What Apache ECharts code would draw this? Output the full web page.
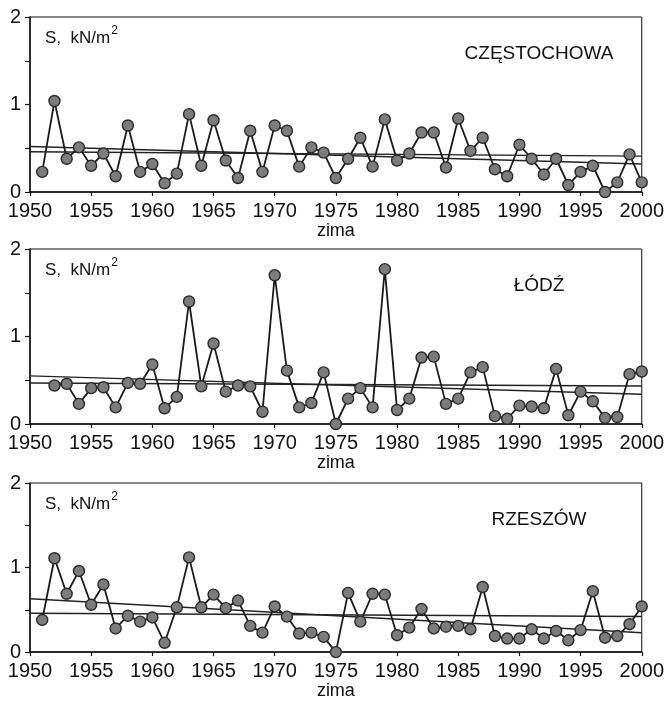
<!DOCTYPE html>
<html>
<head>
<meta charset="utf-8">
<script src="https://cdn.jsdelivr.net/npm/echarts@6/dist/echarts.min.js"></script>
<style>
  html, body { margin: 0; padding: 0; background: #fff; }
  #chart { width: 667px; height: 701px; }
</style>
</head>
<body>
<div id="chart"></div>
<script>
// winters, snow load S in kN/m2
const stations = ['CZĘSTOCHOWA', 'ŁÓDŹ', 'RZESZÓW']

const yearsCz = [1951, 1952, 1953, 1954, 1955, 1956, 1957, 1958, 1959, 1960,
  1961, 1962, 1963, 1964, 1965, 1966, 1967, 1968, 1969, 1970,
  1971, 1972, 1973, 1974, 1975, 1976, 1977, 1978, 1979, 1980,
  1981, 1982, 1983, 1984, 1985, 1986, 1987, 1988, 1989, 1990,
  1991, 1992, 1993, 1994, 1995, 1996, 1997, 1998, 1999, 2000]
const valuesCz = [0.23, 1.04, 0.38, 0.51, 0.30, 0.44, 0.18, 0.76, 0.23, 0.32,
  0.10, 0.21, 0.89, 0.30, 0.82, 0.36, 0.16, 0.70, 0.23, 0.76,
  0.70, 0.29, 0.51, 0.45, 0.16, 0.38, 0.62, 0.29, 0.83, 0.36,
  0.44, 0.68, 0.68, 0.28, 0.84, 0.47, 0.62, 0.26, 0.18, 0.54,
  0.38, 0.20, 0.38, 0.08, 0.23, 0.30, 0.00, 0.11, 0.43, 0.11]

const yearsLo = [1952, 1953, 1954, 1955, 1956, 1957, 1958, 1959, 1960,
  1961, 1962, 1963, 1964, 1965, 1966, 1967, 1968, 1969, 1970,
  1971, 1972, 1973, 1974, 1975, 1976, 1977, 1978, 1979, 1980,
  1981, 1982, 1983, 1984, 1985, 1986, 1987, 1988, 1989, 1990,
  1991, 1992, 1993, 1994, 1995, 1996, 1997, 1998, 1999, 2000]
const valuesLo = [0.44, 0.46, 0.23, 0.41, 0.42, 0.19, 0.47, 0.46, 0.68,
  0.18, 0.31, 1.40, 0.43, 0.92, 0.37, 0.44, 0.43, 0.14, 1.70,
  0.61, 0.19, 0.24, 0.59, 0.00, 0.29, 0.41, 0.19, 1.77, 0.16,
  0.29, 0.76, 0.77, 0.23, 0.29, 0.59, 0.65, 0.09, 0.06, 0.21,
  0.20, 0.18, 0.63, 0.10, 0.37, 0.26, 0.07, 0.08, 0.57, 0.60]

const yearsRz = yearsCz
const valuesRz = [0.38, 1.11, 0.69, 0.96, 0.56, 0.80, 0.28, 0.43, 0.36, 0.41,
  0.11, 0.53, 1.12, 0.53, 0.68, 0.52, 0.61, 0.31, 0.23, 0.54,
  0.42, 0.22, 0.23, 0.18, 0.00, 0.70, 0.36, 0.69, 0.68, 0.20,
  0.29, 0.51, 0.28, 0.30, 0.31, 0.27, 0.77, 0.19, 0.16, 0.16,
  0.27, 0.16, 0.25, 0.14, 0.26, 0.72, 0.17, 0.19, 0.33, 0.54]

// trend lines: value at 1950 and at 2000
const trendYears = [1950, 2000]
const trendSteep = [[0.52, 0.32], [0.55, 0.34], [0.63, 0.23]]
const trendFlat = [[0.46, 0.41], [0.47, 0.435], [0.46, 0.42]]

const xTicks = { min: 1950, max: 2000, step: 5 }
const yTicks = { min: 0, max: 2, step: 0.5 }

const years = [yearsCz, yearsLo, yearsRz]
const values = [valuesCz, valuesLo, valuesRz]

const chart = echarts.init(document.getElementById('chart'))

const gridTops = [17, 249, 483]
const gridHeight = 175
const font = "'Liberation Sans', Arial, sans-serif"
const narrow = "'Liberation Sans Narrow', 'Liberation Sans', Arial, sans-serif"

const grids = gridTops.map(top => ({
  left: 30,
  right: 23,
  top: top,
  height: gridHeight,
  show: true,
  borderColor: '#111',
  borderWidth: 1
}))

const xAxes = gridTops.map((top, i) => ({
  type: 'value',
  gridIndex: i,
  min: xTicks.min,
  max: xTicks.max,
  interval: xTicks.step,
  name: 'zima',
  nameLocation: 'middle',
  nameGap: 28,
  nameTextStyle: { fontFamily: font, fontSize: 18, color: '#111', verticalAlign: 'top' },
  axisLine: { lineStyle: { color: '#111', width: 1.5 } },
  axisTick: { length: 4, lineStyle: { color: '#111', width: 1.2 } },
  splitLine: { show: false },
  axisLabel: {
    fontFamily: narrow,
    fontSize: 20,
    color: '#111',
    margin: 9,
    formatter: v => String(v)
  }
}))

const yAxes = gridTops.map((top, i) => ({
  type: 'value',
  gridIndex: i,
  min: yTicks.min,
  max: yTicks.max,
  interval: yTicks.step,
  axisLine: { show: true, lineStyle: { color: '#111', width: 1.5 } },
  axisTick: { show: true, length: 5, lineStyle: { color: '#111', width: 1.2 } },
  splitLine: { show: false },
  axisLabel: {
    fontFamily: narrow,
    fontSize: 20,
    color: '#111',
    margin: 9,
    formatter: v => (v % 1 === 0 ? String(v) : '')
  }
}))

const series = []
stations.forEach((name, i) => {
  series.push({
    type: 'line',
    xAxisIndex: i,
    yAxisIndex: i,
    data: trendYears.map((y, k) => [y, trendSteep[i][k]]),
    symbol: 'none',
    silent: true,
    lineStyle: { color: '#222', width: 1.5 },
    z: 2
  })
  series.push({
    type: 'line',
    xAxisIndex: i,
    yAxisIndex: i,
    data: trendYears.map((y, k) => [y, trendFlat[i][k]]),
    symbol: 'none',
    silent: true,
    lineStyle: { color: '#222', width: 1.5 },
    z: 2
  })
  series.push({
    name: name,
    type: 'line',
    xAxisIndex: i,
    yAxisIndex: i,
    data: years[i].map((y, k) => [y, values[i][k]]),
    symbol: 'circle',
    symbolSize: 11,
    showAllSymbol: true,
    lineStyle: { color: '#1a1a1a', width: 1.8 },
    itemStyle: { color: '#7c7c7c', borderColor: '#2a2a2a', borderWidth: 1.4 },
    z: 3
  })
})

const graphics = []
gridTops.forEach((top, i) => {
  graphics.push({
    type: 'text',
    left: 45,
    top: top + 8,
    style: {
      text: '{a|S,  kN/m}{s|2}',
      rich: {
        a: { fontFamily: font, fontSize: 17, fill: '#111', verticalAlign: 'bottom' },
        s: { fontFamily: font, fontSize: 12, fill: '#111', verticalAlign: 'top', padding: [0, 0, 10, 1] }
      }
    }
  })
  graphics.push({
    type: 'text',
    x: 539,
    y: top + 37,
    style: {
      text: stations[i],
      fontFamily: font,
      fontSize: 19,
      fill: '#111',
      align: 'center',
      verticalAlign: 'middle'
    }
  })
})

const option = {
  animation: false,
  backgroundColor: '#fff',
  grid: grids,
  xAxis: xAxes,
  yAxis: yAxes,
  series: series,
  graphic: graphics
}
chart.setOption(option)
</script>
</body>
</html>
